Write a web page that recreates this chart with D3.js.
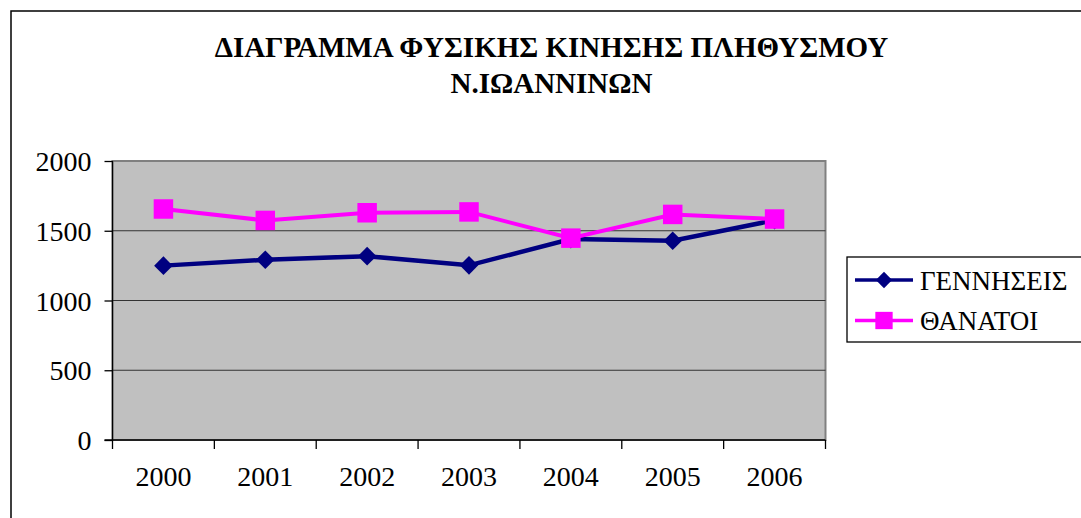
<!DOCTYPE html>
<html>
<head>
<meta charset="utf-8">
<script src="https://cdn.jsdelivr.net/npm/d3@7"></script>
<style>
  body { margin: 0; background: #fff; }
  svg text { font-family: "Liberation Serif", "Times New Roman", serif; fill: #000; }
</style>
</head>
<body>
<script>
// data
var years = ["2000", "2001", "2002", "2003", "2004", "2005", "2006"];
var births = [1250, 1292, 1318, 1252, 1440, 1428, 1575];
var deaths = [1656, 1574, 1629, 1635, 1447, 1617, 1584];
var yTicks = [0, 500, 1000, 1500, 2000];
var seriesNames = ["ΓΕΝΝΗΣΕΙΣ", "ΘΑΝΑΤΟΙ"];
var titleLines = ["ΔΙΑΓΡΑΜΜΑ ΦΥΣΙΚΗΣ ΚΙΝΗΣΗΣ ΠΛΗΘΥΣΜΟΥ", "Ν.ΙΩΑΝΝΙΝΩΝ"];

var W = 1081, H = 518;
var pLeft = 112.5, pRight = 825.5, pTop = 161, pBottom = 440;

var svg = d3.select(document.body).append("svg")
    .attr("width", W).attr("height", H);

// outer chart frame, runs off the right and bottom edge
svg.append("rect")
    .attr("x", 11).attr("y", 11)
    .attr("width", W + 20).attr("height", H + 20)
    .style("fill", "none").style("stroke", "#000").style("stroke-width", 1.5);

var t = svg.append("text")
    .attr("text-anchor", "middle")
    .style("font-size", "29px").style("font-weight", "bold");
t.selectAll("tspan").data(titleLines).enter().append("tspan")
    .attr("x", 551.5)
    .attr("y", function(d, i){ return 57 + i * 36; })
    .text(function(d){ return d; });

var x = d3.scaleBand().domain(years).range([pLeft, pRight]).padding(0);
var y = d3.scaleLinear().domain([0, 2000]).range([pBottom, pTop]);

// plot area
svg.append("rect")
    .attr("x", pLeft).attr("y", pTop)
    .attr("width", pRight - pLeft).attr("height", pBottom - pTop)
    .style("fill", "#c0c0c0").style("stroke", "#808080").style("stroke-width", 2);

// gridlines
svg.append("g").selectAll("line").data(yTicks.filter(function(d){ return d > 0 && d < 2000; }))
    .enter().append("line")
    .attr("x1", pLeft).attr("x2", pRight)
    .attr("y1", function(d){ return y(d); }).attr("y2", function(d){ return y(d); })
    .style("stroke", "#333").style("stroke-width", 1.2);

// y axis
var yAxis = svg.append("g")
    .attr("transform", "translate(" + pLeft + ",0)")
    .call(d3.axisLeft(y).tickValues(yTicks).tickFormat(d3.format("d")).tickSize(8).tickPadding(13));
yAxis.selectAll("text").style("font-size", "28px").attr("dy", "0.34em");
yAxis.selectAll("line, path").style("stroke", "#000").style("stroke-width", 1.3);
yAxis.select("path").attr("d", "M0," + (pBottom + 0.5) + "V" + pTop);

// x axis: labels centred in band, ticks at band edges
var xAxis = svg.append("g")
    .attr("transform", "translate(0," + pBottom + ")")
    .call(d3.axisBottom(x).tickSize(0).tickPadding(38));
xAxis.selectAll("text").style("font-size", "28px").attr("dy", "0.3em");
xAxis.select("path").attr("d", "M" + (pLeft - 8) + ",0H" + pRight)
    .style("stroke", "#000").style("stroke-width", 1.3);
xAxis.selectAll("line.edge").data(years.concat(["end"])).enter().append("line")
    .attr("class", "edge")
    .attr("x1", function(d){ return d === "end" ? pRight : x(d); })
    .attr("x2", function(d){ return d === "end" ? pRight : x(d); })
    .attr("y1", 0).attr("y2", 9)
    .style("stroke", "#000").style("stroke-width", 1.3);

var cx = function(d, i){ return x(years[i]) + x.bandwidth() / 2; };

var line = d3.line()
    .x(function(d, i){ return cx(d, i); })
    .y(function(d){ return y(d); });

var navy = "#000080", magenta = "#ff00ff";

svg.append("path").datum(births).attr("d", line)
    .style("fill", "none").style("stroke", navy).style("stroke-width", 4.5);
svg.append("path").datum(deaths).attr("d", line)
    .style("fill", "none").style("stroke", magenta).style("stroke-width", 4);

var diamond = d3.symbol().type(d3.symbolDiamond2).size(220);
var square = d3.symbol().type(d3.symbolSquare).size(380);

svg.append("g").selectAll("path").data(births).enter().append("path")
    .attr("d", diamond)
    .attr("transform", function(d, i){ return "translate(" + cx(d, i) + "," + y(d) + ")"; })
    .style("fill", navy);

svg.append("g").selectAll("path").data(deaths).enter().append("path")
    .attr("d", square)
    .attr("transform", function(d, i){ return "translate(" + cx(d, i) + "," + y(d) + ")"; })
    .style("fill", magenta);

// legend
var lg = svg.append("g");
lg.append("rect")
    .attr("x", 847).attr("y", 257).attr("width", 300).attr("height", 85)
    .style("fill", "#fff").style("stroke", "#000").style("stroke-width", 1.3);
var items = lg.selectAll("g.item").data(seriesNames).enter().append("g")
    .attr("class", "item")
    .attr("transform", function(d, i){ return "translate(0," + (280 + i * 40.5) + ")"; });
items.append("line")
    .attr("x1", 855).attr("x2", 913)
    .style("stroke", function(d, i){ return i ? magenta : navy; })
    .style("stroke-width", 3.5);
items.append("path")
    .attr("d", function(d, i){ return i ? d3.symbol().type(d3.symbolSquare).size(300)() : d3.symbol().type(d3.symbolDiamond2).size(170)(); })
    .attr("transform", "translate(884,0)")
    .style("fill", function(d, i){ return i ? magenta : navy; });
items.append("text")
    .attr("x", 920).attr("y", 9.5)
    .style("font-size", "27px")
    .text(function(d){ return d; });
</script>
</body>
</html>
